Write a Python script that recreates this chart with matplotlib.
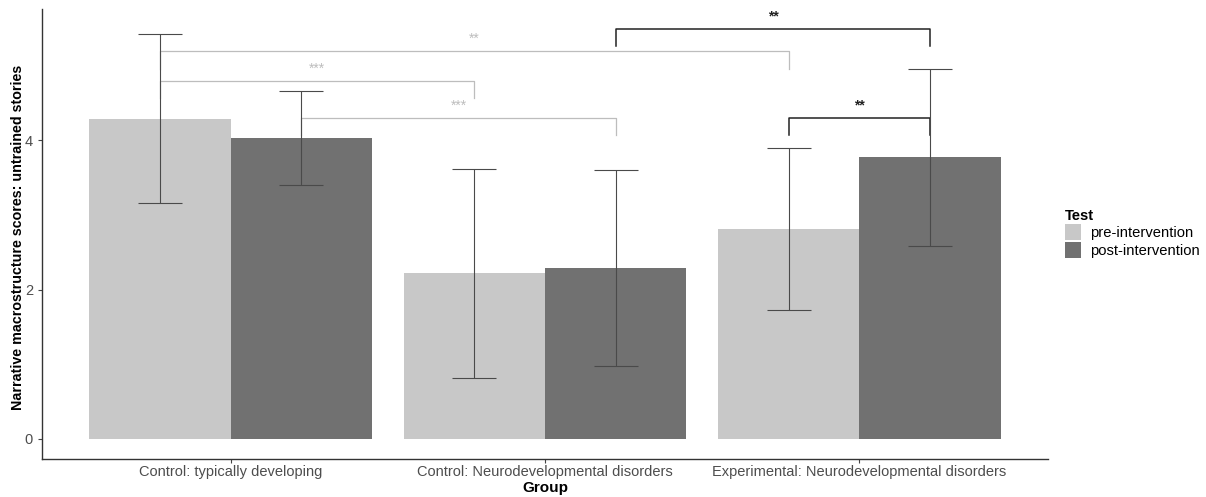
import numpy as np
import matplotlib.pyplot as plt
from matplotlib.patches import Patch

plt.rcParams['font.family'] = ['Liberation Sans', 'DejaVu Sans']

# Data
groups = ["Control: typically developing", "Control: Neurodevelopmental disorders",
          "Experimental: Neurodevelopmental disorders"]
tests = ["pre-intervention", "post-intervention"]
pre_mean = [4.29, 2.22, 2.81]
post_mean = [4.03, 2.29, 3.77]
pre_low = [3.16, 0.81, 1.72]
pre_high = [5.42, 3.61, 3.90]
post_low = [3.40, 0.98, 2.58]
post_high = [4.66, 3.60, 4.96]

# significance brackets
sig_x1 = [-0.225, -0.225, 0.225, 1.225, 1.775]
sig_x2 = [1.775, 0.775, 1.225, 2.225, 2.225]
sig_y = [5.20, 4.80, 4.30, 5.49, 4.30]
sig_tip = [4.96, 4.57, 4.07, 5.26, 4.07]
sig_label = ["**", "***", "***", "**", "**"]
sig_label_y = [5.36, 4.96, 4.46, 5.66, 4.47]
sig_dark = [False, False, False, True, True]

pre_col = "#C8C8C8"
post_col = "#717171"

fig = plt.figure(figsize=(12.06, 4.97), dpi=100)
ax = fig.add_axes([0.0348, 0.0765, 0.8342, 0.9055])

x = np.arange(len(groups))
w = 0.45
ax.bar(x - w / 2, pre_mean, width=w, color=pre_col, label=tests[0], zorder=1)
ax.bar(x + w / 2, post_mean, width=w, color=post_col, label=tests[1], zorder=1)

pre_err = [np.array(pre_mean) - np.array(pre_low), np.array(pre_high) - np.array(pre_mean)]
post_err = [np.array(post_mean) - np.array(post_low), np.array(post_high) - np.array(post_mean)]
ax.errorbar(x - w / 2, pre_mean, yerr=pre_err, fmt='none', ecolor="#4A4A4A",
            elinewidth=0.8, capsize=15.5, capthick=0.8, zorder=3)
ax.errorbar(x + w / 2, post_mean, yerr=post_err, fmt='none', ecolor="#4A4A4A",
            elinewidth=0.8, capsize=15.5, capthick=0.8, zorder=3)

for x1, x2, y, t, lab, ly, dark in zip(sig_x1, sig_x2, sig_y, sig_tip, sig_label, sig_label_y, sig_dark):
    c = "#222222" if dark else "#BDBDBD"
    lw = 1.1 if dark else 0.9
    ax.plot([x1, x1, x2, x2], [t, y, y, t], color=c, lw=lw, zorder=2)
    ax.text((x1 + x2) / 2, ly, lab, color=c, ha='center', va='center', fontsize=10,
            fontweight='bold' if dark else 'normal')

ax.set_xlim(-0.6, 2.6)
ax.set_ylim(-0.27, 5.76)
ax.set_xticks(x)
ax.set_xticklabels(groups)
ax.set_yticks([0, 2, 4])
ax.tick_params(axis='both', colors="#444444", labelcolor="#4D4D4D", labelsize=10.5, length=3, width=0.8)
ax.tick_params(axis='x', pad=1.5)

for s in ['top', 'right']:
    ax.spines[s].set_visible(False)
for s in ['left', 'bottom']:
    ax.spines[s].set_color("#333333")
    ax.spines[s].set_linewidth(1.0)

ax.set_xlabel("Group", fontweight='bold', fontsize=11, labelpad=1)
ax.set_ylabel("Narrative macrostructure scores: untrained stories", fontweight='bold', fontsize=10.3)
ax.yaxis.set_label_coords(-0.0165, 0.493)

handles = [Patch(facecolor=pre_col, label=tests[0]), Patch(facecolor=post_col, label=tests[1])]
leg = fig.legend(handles=handles, title="Test", loc='upper left', bbox_to_anchor=(0.878, 0.592),
                 frameon=False, fontsize=10.6, title_fontproperties={'weight': 'bold', 'size': 10.6},
                 handlelength=1.1, handleheight=1.3, handletextpad=0.6, labelspacing=0.12,
                 borderaxespad=0)
leg._legend_box.align = "left"

fig.savefig("out.png", dpi=100)
